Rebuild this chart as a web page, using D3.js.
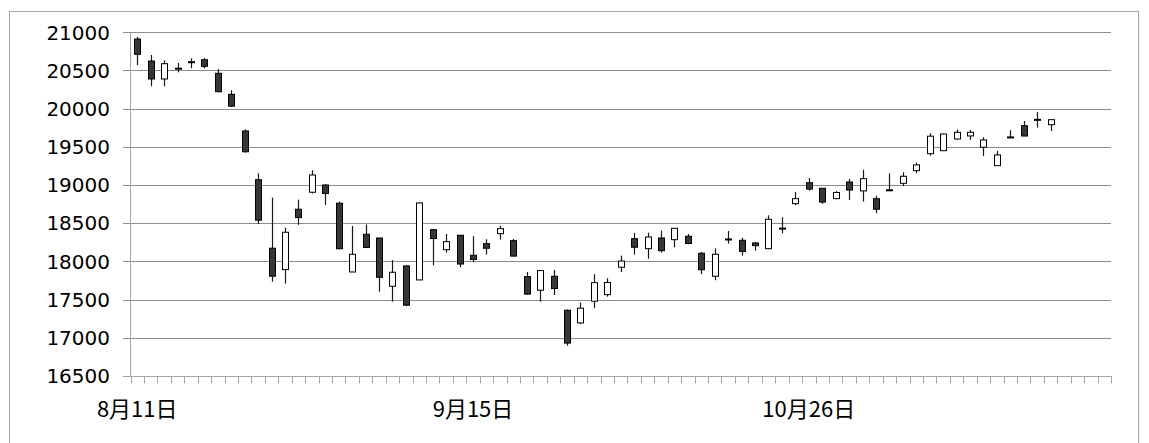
<!DOCTYPE html>
<html>
<head>
<meta charset="utf-8">
<script src="https://cdn.jsdelivr.net/npm/d3@7.9.0/dist/d3.min.js"></script>
<style>
  html, body { margin: 0; padding: 0; background: #fff; }
  svg { display: block; }
</style>
</head>
<body>
<svg id="chart" width="1149" height="443"></svg>
<script>
// trading days (last four categories are empty slots on the axis)
const dates = [
  '8月11日','8月12日','8月13日','8月14日','8月17日','8月18日','8月19日','8月20日','8月21日',
  '8月24日','8月25日','8月26日','8月27日','8月28日','8月31日',
  '9月1日','9月2日','9月3日','9月4日','9月7日','9月8日','9月9日','9月10日','9月11日',
  '9月14日','9月15日','9月16日','9月17日','9月18日','9月24日','9月25日','9月28日','9月29日','9月30日',
  '10月1日','10月2日','10月5日','10月6日','10月7日','10月8日','10月9日','10月13日','10月14日',
  '10月15日','10月16日','10月19日','10月20日','10月21日','10月22日','10月23日','10月26日',
  '10月27日','10月28日','10月29日','10月30日','11月2日','11月4日','11月5日','11月6日',
  '11月9日','11月10日','11月11日','11月12日','11月13日','11月16日','11月17日','11月18日',
  '11月19日','11月20日','11月24日','11月25日','11月26日','11月27日'
];

const open = [
  20912, 20624, 20389, 20530, 20615, 20641, 20463, 20188, 19708, 19070,
  18173, 17893, 18683, 18906, 19001, 18762, 17862, 18356, 18307, 17675,
  17941, 17758, 18416, 18154, 18343, 18081, 18233, 18364, 18272, 17801,
  17623, 17806, 17361, 17195, 17479, 17565, 17924, 18298, 18167, 18307,
  18285, 18330, 18107, 17806, 18285, 18277, 18242, 18167, 18430, 18756,
  19031, 18958, 18822, 19040, 18923, 18822, 18932, 19023, 19188, 19411,
  19450, 19603, 19643, 19495, 19254, 19625, 19777, 19850, 19790
];
const high = [
  20938, 20703, 20633, 20598, 20660, 20664, 20520, 20241, 19730, 19154,
  18835, 18442, 18809, 19194, 19010, 18783, 18465, 18482, 18307, 18019,
  17950, 18770, 18420, 18360, 18343, 18330, 18290, 18468, 18294, 17862,
  17885, 17889, 17370, 17460, 17832, 17780, 18076, 18373, 18377, 18403,
  18440, 18360, 18124, 18172, 18399, 18311, 18255, 18604, 18578, 18910,
  19093, 18960, 18920, 19080, 19201, 18861, 19154, 19167, 19293, 19678,
  19672, 19725, 19721, 19626, 19446, 19717, 19839, 19957, 19860
];
const low = [
  20572, 20293, 20293, 20476, 20529, 20529, 20215, 20022, 19424, 18491,
  17735, 17709, 18478, 18890, 18739, 18160, 17860, 18176, 17604, 17474,
  17415, 17755, 17950, 18115, 17924, 17989, 18089, 18285, 18065, 17565,
  17474, 17561, 16897, 17178, 17387, 17539, 17862, 18089, 18036, 18115,
  18186, 18225, 17832, 17754, 18233, 18076, 18141, 18160, 18369, 18739,
  18927, 18756, 18815, 18805, 18783, 18631, 18927, 18988, 19154, 19385,
  19447, 19594, 19590, 19381, 19250, 19624, 19639, 19751, 19708
];
const close = [
  20712, 20389, 20589, 20519, 20605, 20554, 20222, 20033, 19436, 18540,
  17807, 18382, 18574, 19132, 18890, 18166, 18094, 18182, 17792, 17858,
  17427, 18766, 18300, 18259, 17966, 18026, 18172, 18429, 18070, 17572,
  17880, 17645, 16931, 17388, 17722, 17725, 18005, 18186, 18320, 18141,
  18434, 18235, 17891, 18094, 18294, 18131, 18207, 18552, 18436, 18822,
  18947, 18777, 18903, 18935, 19083, 18683, 18938, 19115, 19264, 19640,
  19669, 19691, 19691, 19590, 19394, 19630, 19642, 19860, 19856
];

const yTicks = [16500, 17000, 17500, 18000, 18500, 19000, 19500, 20000, 20500, 21000];
const labelEvery = 25;

const svg = d3.select('#chart');
const plotLeft = 130.5, plotRight = 1111, plotTop = 32.3, plotBottom = 376;

// outer frame
svg.append('rect')
  .attr('x', 9.5).attr('y', 11.5)
  .attr('width', 1129).attr('height', 440)
  .attr('fill', 'none').attr('stroke', '#a6a6a6');

const x = d3.scaleBand().domain(d3.range(dates.length)).range([plotLeft, plotRight]).paddingInner(0);
const y = d3.scaleLinear().domain([16500, 21000]).range([plotBottom, plotTop]);

// gridlines + value labels
svg.selectAll('line.grid')
  .data(yTicks.filter(d => d !== 16500))
  .enter().append('line')
  .attr('class', 'grid')
  .attr('x1', 123).attr('x2', plotRight)
  .attr('y1', d => Math.round(y(d)) + 0.5)
  .attr('y2', d => Math.round(y(d)) + 0.5)
  .attr('stroke', '#8c8c8c');

svg.selectAll('text.ylab')
  .data(yTicks)
  .enter().append('text')
  .attr('class', 'ylab')
  .attr('x', 110)
  .attr('y', d => y(d))
  .attr('dy', '0.36em')
  .attr('text-anchor', 'end')
  .attr('font-family', 'DejaVu Sans, sans-serif')
  .attr('font-size', 20)
  .attr('fill', '#000')
  .text(d => d);

// axes
svg.append('line')
  .attr('x1', plotLeft).attr('x2', plotLeft)
  .attr('y1', plotTop).attr('y2', plotBottom)
  .attr('stroke', '#a6a6a6');
svg.append('line')
  .attr('x1', 123).attr('x2', plotRight)
  .attr('y1', plotBottom + 0.5).attr('y2', plotBottom + 0.5)
  .attr('stroke', '#a6a6a6');

const tickPos = d3.range(dates.length + 1).map(i => plotLeft + i * x.bandwidth());
svg.selectAll('line.xtick')
  .data(tickPos)
  .enter().append('line')
  .attr('class', 'xtick')
  .attr('x1', d => Math.round(d) + 0.5).attr('x2', d => Math.round(d) + 0.5)
  .attr('y1', plotBottom).attr('y2', plotBottom + 7.5)
  .attr('stroke', '#a6a6a6');

svg.selectAll('text.xlab')
  .data(dates.filter((d, i) => i % labelEvery === 0))
  .enter().append('text')
  .attr('class', 'xlab')
  .attr('x', (d, i) => x(i * labelEvery) + x.bandwidth() / 2)
  .attr('y', 409)
  .attr('dy', '0.36em')
  .attr('text-anchor', 'middle')
  .attr('font-family', 'Noto Sans CJK JP, sans-serif')
  .attr('font-size', 22)
  .attr('fill', '#000')
  .text(d => d);

// candles
const candles = open.map((o, i) => ({ i, o, h: high[i], l: low[i], c: close[i] }));
const bodyW = 6;
const cx = d => Math.round(x(d.i) + x.bandwidth() / 2) + 0.5;

const g = svg.append('g');
g.selectAll('line.wick')
  .data(candles)
  .enter().append('line')
  .attr('class', 'wick')
  .attr('x1', cx).attr('x2', cx)
  .attr('y1', d => y(d.h)).attr('y2', d => y(d.l))
  .attr('stroke', '#1a1a1a')
  .attr('stroke-width', 1.2);

g.selectAll('rect.body')
  .data(candles)
  .enter().append('rect')
  .attr('class', 'body')
  .attr('x', d => cx(d) - bodyW / 2)
  .attr('width', bodyW)
  .attr('y', d => y(Math.max(d.o, d.c)))
  .attr('height', d => Math.max(1, Math.abs(y(d.o) - y(d.c))))
  .attr('fill', d => d.c < d.o ? '#363636' : '#fff')
  .attr('stroke', '#000')
  .attr('stroke-width', 1);
</script>
</body>
</html>
